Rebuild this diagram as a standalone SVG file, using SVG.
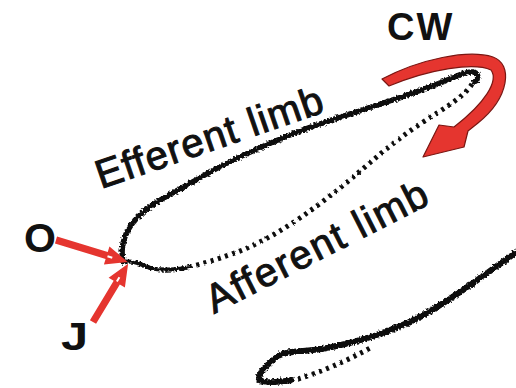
<svg xmlns="http://www.w3.org/2000/svg" width="516" height="388" viewBox="0 0 516 388">
<style>
.lbl{font-family:"Liberation Sans",Arial,sans-serif;fill:#111;}
.big{font-weight:bold;}
.limb{font-size:40px;stroke:#111;stroke-width:1px;}
.trace{fill:none;stroke:#0a0a0a;stroke-linecap:round;stroke-linejoin:round;}
.dots{fill:none;stroke:#0a0a0a;stroke-width:5;stroke-dasharray:3 4.5;stroke-linecap:butt;}
.red{fill:#e5352f;}
.notch{stroke:#fff;stroke-width:2;fill:none;}
</style>
<defs>
<filter id="rough" filterUnits="userSpaceOnUse" x="0" y="0" width="516" height="388">
<feTurbulence type="fractalNoise" baseFrequency="0.5" numOctaves="2" seed="3" result="n"/>
<feDisplacementMap in="SourceGraphic" in2="n" scale="5" xChannelSelector="R" yChannelSelector="G"/>
</filter>
<filter id="rough2" filterUnits="userSpaceOnUse" x="0" y="0" width="516" height="388">
<feTurbulence type="fractalNoise" baseFrequency="0.3" numOctaves="1" seed="7" result="n"/>
<feDisplacementMap in="SourceGraphic" in2="n" scale="2.5" xChannelSelector="R" yChannelSelector="G"/>
</filter>
</defs>
<rect width="516" height="388" fill="#fff"/>

<g id="connectors">
<g filter="url(#rough)">
<path id="efferent" class="trace" stroke-width="5.4" d="M123,262 C120,245 125,229 140,215 C155,201 175,192 196,180 C230,160 262,146 300,131 C350,113 400,99 440,83 C455,77 466,71 474,72 C479,74 479,80 474,82"/>
<path id="afferent-solid" class="trace" stroke-width="4.2" d="M124,262 C132,260 140,264 150,268 C162,271 175,270 190,267"/>
<path id="lower-solid" class="trace" stroke-width="6" d="M520,250 C490,270 460,295 420,317 C390,332 360,342 322,349 C302,352 288,350 278,356 C268,364 258,372 259,380 C266,384 280,382 292,380"/>
</g>
<g filter="url(#rough2)">
<path id="afferent" class="dots" d="M472,84 C465,96 445,108 420,124 C390,144 368,165 340,188 C310,212 272,240 232,254 C215,260 202,264 192,266"/>
<path id="lower-dots" class="dots" d="M298,379 C318,373 345,362 372,347"/>
</g>
</g>

<g id="cw-arrow">
<path d="M382,79 C420,59 468,49 493,57 C513,64 510,97 478,123 L468,131 L464,147 L423,157 L439,125 L454,127 C485,103 499,81 491,70 C474,62 430,69 389,86 Z" fill="#e5352f" stroke="#7a1612" stroke-width="1.2" stroke-linejoin="round"/>
</g>

<g id="o-arrow" transform="translate(56,240) rotate(17)">
<polygon class="red" points="0,-3.6 53,-3.6 53,-9.5 75,0 53,9.5 53,3.6 0,3.6"/>
<line class="notch" x1="54" y1="0.5" x2="59" y2="0.5"/>
</g>
<g id="j-arrow" transform="translate(93,322) rotate(-58.9)">
<polygon class="red" points="0,-3.6 46,-3.6 46,-9.5 68,0 46,9.5 46,3.6 0,3.6"/>
<line class="notch" x1="47" y1="-0.5" x2="52" y2="-0.5"/>
</g>

<g id="label-cw"><text class="lbl big" x="387" y="40" font-size="38" letter-spacing="2">CW</text></g>
<g id="label-o"><text class="lbl big" x="24" y="252" font-size="41">O</text></g>
<g id="label-j"><text class="lbl big" transform="translate(61,350) scale(1.25,1)" x="0" y="0" font-size="39">J</text></g>
<g id="label-efferent"><text class="lbl limb" transform="translate(101,189) rotate(-19)" textLength="238" lengthAdjust="spacing">Efferent limb</text></g>
<g id="label-afferent"><text class="lbl limb" transform="translate(214,314) rotate(-27)" textLength="244" lengthAdjust="spacing">Afferent limb</text></g>
</svg>
